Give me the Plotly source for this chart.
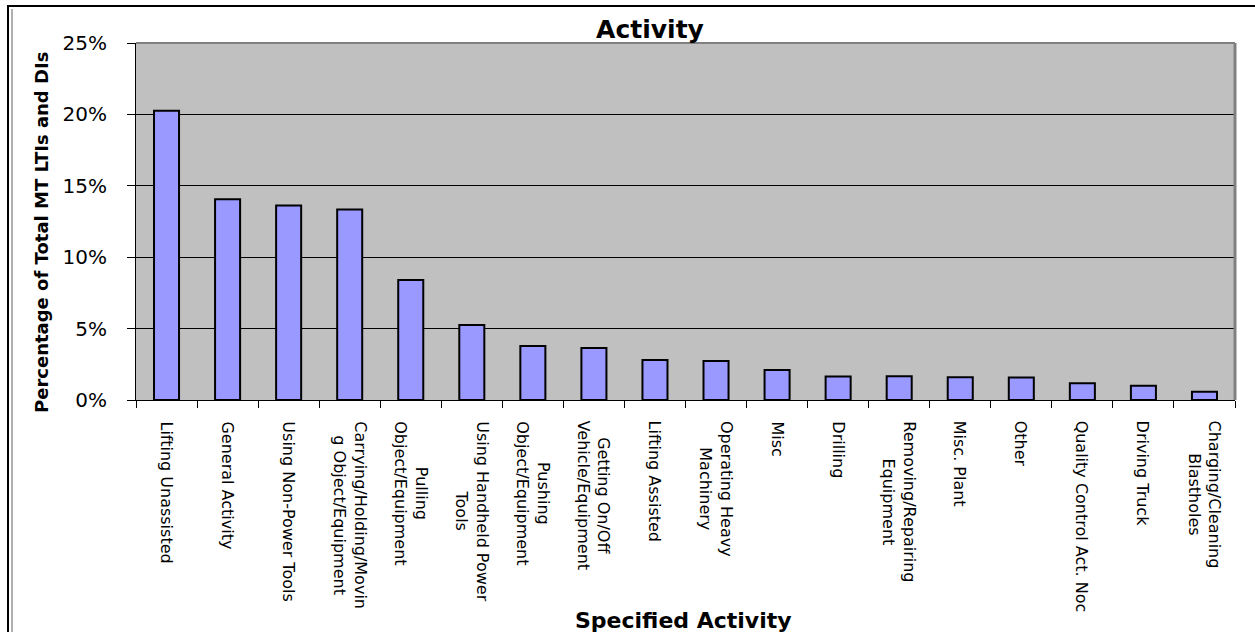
import plotly.graph_objects as go

categories = [
    "Lifting Unassisted",
    "General Activity",
    "Using Non-Power Tools",
    "Carrying/Holding/Movin<br>g Object/Equipment",
    "Pulling<br>Object/Equipment",
    "Using Handheld Power<br>Tools",
    "Pushing<br>Object/Equipment",
    "Getting On/Off<br>Vehicle/Equipment",
    "Lifting Assisted",
    "Operating Heavy<br>Machinery",
    "Misc",
    "Drilling",
    "Removing/Repairing<br>Equipment",
    "Misc. Plant",
    "Other",
    "Quality Control Act. Noc",
    "Driving Truck",
    "Charging/Cleaning<br>Blastholes",
]
percent_values = [20.25, 14.06, 13.62, 13.34, 8.41, 5.26, 3.78, 3.64, 2.80, 2.73,
                  2.10, 1.64, 1.66, 1.59, 1.57, 1.17, 1.00, 0.58]
y_tick_vals = [0, 5, 10, 15, 20, 25]
y_tick_text = ["0%", "5%", "10%", "15%", "20%", "25%"]

W, H = 1255, 632
L, R, T, B = 136, 1235, 43, 400
PW, PH = R - L, B - T


def px(x):
    return (x - L) / PW


def py(y):
    return (B - y) / PH


FONT = "DejaVu Sans, Verdana, sans-serif"

fig = go.Figure(go.Bar(
    x=categories,
    y=percent_values,
    marker=dict(color="#9999FF", line=dict(color="black", width=2)),
    hoverinfo="x+y",
))

fig.update_layout(
    width=W, height=H,
    margin=dict(l=L, r=W - R, t=T, b=H - B, pad=0),
    paper_bgcolor="white",
    plot_bgcolor="#C0C0C0",
    bargap=0.59,
    showlegend=False,
    font=dict(family=FONT, color="black"),
    title=dict(text="<b>Activity</b>", x=650 / W, xref="container", xanchor="center",
               y=1 - 29 / H, yanchor="middle", yref="container",
               font=dict(size=25, family=FONT, color="black")),
)

fig.update_xaxes(
    type="category",
    tickson="boundaries",
    ticks="outside", ticklen=7, tickcolor="black", tickwidth=1,
    showline=True, linecolor="black", linewidth=1,
    showgrid=False,
    showticklabels=False,
    automargin=False,
)

fig.update_yaxes(
    range=[0, 25],
    tickmode="array",
    tickvals=y_tick_vals,
    ticktext=y_tick_text,
    ticks="outside", ticklen=8, tickcolor="black", tickwidth=1,
    showline=True, linecolor="black", linewidth=1,
    showgrid=True, gridcolor="black", gridwidth=1,
    zeroline=False,
    tickfont=dict(size=20, family=FONT, color="black"),
    ticklabelstandoff=16,
    automargin=False,
)

annotations = []
for cat in categories:
    annotations.append(dict(
        x=cat, xref="x", y=py(419), yref="paper",
        text=cat, textangle=90, showarrow=False,
        xanchor="center", yanchor="top", align="center",
        font=dict(size=16, family=FONT, color="black"),
    ))
annotations.append(dict(
    x=px(41), xref="paper", y=py(233), yref="paper",
    text="<b>Percentage of Total MT LTIs and DIs</b>", textangle=-90,
    showarrow=False, xanchor="center", yanchor="middle",
    font=dict(size=18, family=FONT, color="black"),
))
annotations.append(dict(
    x=px(683), xref="paper", y=py(620), yref="paper",
    text="<b>Specified Activity</b>", showarrow=False,
    xanchor="center", yanchor="middle",
    font=dict(size=22, family=FONT, color="black"),
))

shapes = [
    dict(type="line", xref="paper", yref="paper", x0=0, x1=1, y0=1, y1=1,
         line=dict(color="#808080", width=2)),
    dict(type="line", xref="paper", yref="paper", x0=1, x1=1, y0=0, y1=1,
         line=dict(color="#808080", width=3)),
    dict(type="rect", xref="paper", yref="paper", x0=px(8), x1=px(1270), y0=py(6), y1=py(650),
         line=dict(color="black", width=2)),
    dict(type="line", xref="paper", yref="paper", x0=px(12), x1=px(12), y0=py(9), y1=py(650),
         line=dict(color="#606060", width=1)),
]
fig.update_layout(shapes=shapes, annotations=annotations)

fig.write_html("out.html", config={"displayModeBar": False},
               post_script="document.body.style.margin='0';")
